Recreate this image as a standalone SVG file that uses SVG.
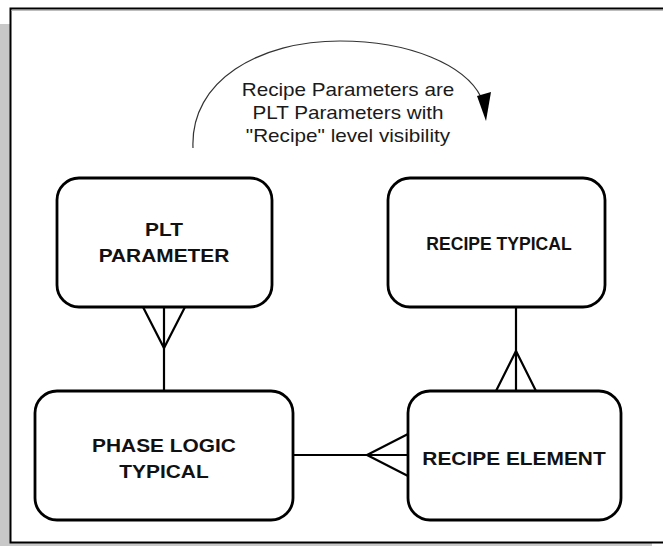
<svg xmlns="http://www.w3.org/2000/svg" width="663" height="546" viewBox="0 0 663 546">
  <style>
    .entity { fill: #ffffff; stroke: #000000; stroke-width: 2.8; }
    .label { font-family: "Liberation Sans", Arial, sans-serif; font-weight: bold; font-size: 18.5px; fill: #111111; text-anchor: middle; }
    .note { font-family: "Liberation Sans", Arial, sans-serif; font-size: 18px; fill: #1a1a1a; text-anchor: middle; }
    .link { fill: none; stroke: #000000; stroke-width: 2.2; }
    .crow { fill: none; stroke: #000000; stroke-width: 2.2; stroke-linejoin: miter; }
    .arc { fill: none; stroke: #333333; stroke-width: 1.2; }
  </style>

  <!-- page with drop shadow -->
  <rect x="0" y="0" width="663" height="546" fill="#ffffff"/>
  <rect x="0" y="24" width="652" height="522" fill="#c8c8c8"/>
  <rect x="10.5" y="8.5" width="660" height="534" fill="#ffffff" stroke="#000000" stroke-width="2"/>
  <line x1="11.5" y1="10.5" x2="663" y2="10.5" stroke="#bdbdbd" stroke-width="1"/>

  <!-- annotation: curved arrow and note -->
  <g id="note">
    <path class="arc" d="M193,148 C190,80 260,41 340,41 C410,41 465,65 481,97"/>
    <polygon points="477,96 491,92 486,121" fill="#000000"/>
    <g transform="translate(348,0) scale(1.15,1)">
      <text class="note" x="0" y="96">Recipe Parameters are</text>
      <text class="note" x="0" y="119">PLT Parameters with</text>
      <text class="note" x="0" y="142">"Recipe" level visibility</text>
    </g>
  </g>

  <!-- connectors -->
  <g id="connectors">
    <!-- PLT PARAMETER (many) to PHASE LOGIC TYPICAL -->
    <line class="link" x1="164" y1="307" x2="164" y2="391"/>
    <polyline class="crow" points="143,307 164,348 185,307"/>
    <!-- RECIPE TYPICAL to RECIPE ELEMENT (many) -->
    <line class="link" x1="516" y1="307" x2="516" y2="391"/>
    <polyline class="crow" points="496,391 516,351 536,391"/>
    <!-- PHASE LOGIC TYPICAL to RECIPE ELEMENT (many) -->
    <line class="link" x1="293" y1="455" x2="408" y2="455"/>
    <polyline class="crow" points="408,434 367,455 408,476"/>
  </g>

  <!-- entities -->
  <g id="plt-parameter">
    <rect class="entity" x="57" y="178" width="215" height="129" rx="22" ry="22"/>
    <g transform="translate(164,0) scale(1.13,1)">
      <text class="label" x="0" y="236">PLT</text>
      <text class="label" x="0" y="262">PARAMETER</text>
    </g>
  </g>

  <g id="recipe-typical">
    <rect class="entity" x="388" y="178" width="217" height="129" rx="22" ry="22"/>
    <g transform="translate(499,0) scale(0.95,1)">
      <text class="label" x="0" y="250">RECIPE TYPICAL</text>
    </g>
  </g>

  <g id="phase-logic-typical">
    <rect class="entity" x="35" y="391" width="258" height="129" rx="22" ry="22"/>
    <g transform="translate(164,0) scale(1.13,1)">
      <text class="label" x="0" y="452">PHASE LOGIC</text>
      <text class="label" x="0" y="478">TYPICAL</text>
    </g>
  </g>

  <g id="recipe-element">
    <rect class="entity" x="408" y="391" width="213" height="129" rx="22" ry="22"/>
    <g transform="translate(514,0) scale(1.13,1)">
      <text class="label" x="0" y="465">RECIPE ELEMENT</text>
    </g>
  </g>
</svg>
